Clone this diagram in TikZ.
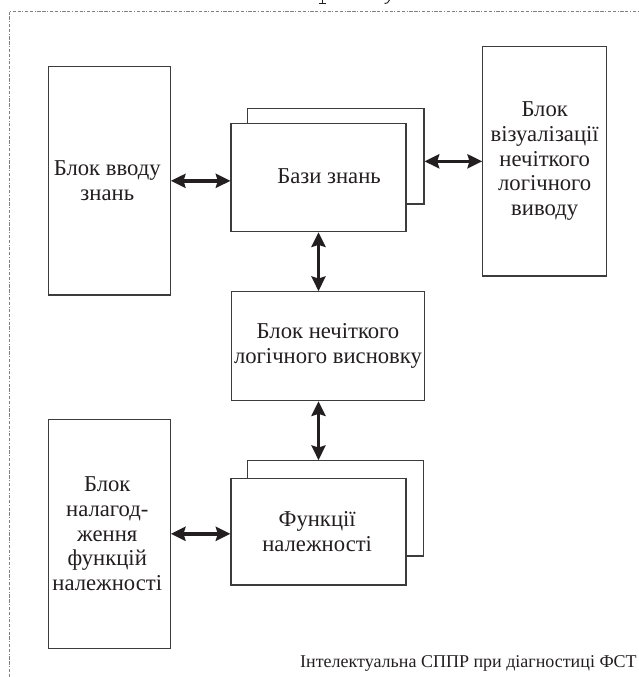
\documentclass[tikz,border=0pt]{standalone}
\usepackage{fontspec}
\setmainfont{Liberation Serif}
\usetikzlibrary{arrows.meta,fit}
\definecolor{ln}{HTML}{3C3C3C}
\definecolor{ink}{HTML}{231F20}
\definecolor{brd}{HTML}{808080}
\begin{document}
\begin{tikzpicture}[x=0.75pt,y=-0.75pt,
  box/.style={draw=ln, line width=0.8pt, fill=white, inner sep=0pt},
  txt/.style={font=\fontsize{17}{18.5}\selectfont, text=ink, align=center, inner sep=0pt},
  arr/.style={draw=ink, line width=2.6pt, {Stealth[length=11pt,width=10.5pt,inset=1.5pt]}-{Stealth[length=11pt,width=10.5pt,inset=1.5pt]}},
  frame/.style={draw=brd, line width=0.6pt, dash pattern=on 2.5pt off 1.2pt on 2.5pt off 1.2pt on 0.7pt off 1.2pt},
  frag/.style={draw=ink, line width=0.7pt}]
\useasboundingbox (0,0) rectangle (638,677);
% frame
\draw[frame] (9,677) -- (9,11) -- (638,11);
% glyph fragments cut off at the very top
\draw[frag] (322,0) -- (322,3.5);
\draw[frag] (318.5,3.5) -- (325.5,3.5);
\draw[frag] (389.5,0) .. controls (388.5,2.5) and (386.5,4) .. (384.5,3.5);
% boxes
\node[box, fit={(48.3,66.7) (170.3,295)}] (in1) {};
\node[box, fit={(247.5,108.3) (424,204)}] (kbB) {};
\node[box, fit={(231,123.7) (406,231.7)}] (kbF) {};
\node[box, fit={(482.7,46.7) (606.7,276)}] (vis) {};
\node[box, fit={(231.5,291.7) (424.5,400.7)}] (inf) {};
\node[box, fit={(247.5,460.7) (423.5,556)}] (mfB) {};
\node[box, fit={(231,478.3) (406,585)}] (mfF) {};
\node[box, fit={(48.3,419.3) (170.3,648.3)}] (tune) {};
% texts
\node[txt] (in1T) at ([xshift=-1.5pt]in1.center) {Блок вводу\\знань};
\node[txt] (kbT) at (329,176.3) {Бази знань};
\node[txt] (visT) at (vis.center) {Блок\\візуалізації\\нечіткого\\логічного\\виводу};
\node[txt] (infT) at (inf.center) {Блок нечіткого\\логічного висновку};
\node[txt] (mfT) at ([xshift=-1pt]mfF.center) {Функції\\належності};
\node[txt] (tuneT) at ([xshift=-1.5pt]tune.center) {Блок\\налагод-\\ження\\функцій\\належності};
% caption
\node[txt, font=\fontsize{13.5}{15}\selectfont, anchor=base east] (cap) at (637,667) {Інтелектуальна СППР при діагностиці ФСТ};
% connectors
\draw[arr] (in1.east) -- (in1.east -| kbF.west);
\draw[arr] (vis.west -| kbB.east) -- (vis.west);
\draw[arr] (kbF.south) -- (kbF.south |- inf.north);
\draw[arr] (mfF.north |- inf.south) -- (mfF.north |- mfB.north);
\draw[arr] (tune.east) -- (tune.east -| mfF.west);
\end{tikzpicture}
\end{document}
